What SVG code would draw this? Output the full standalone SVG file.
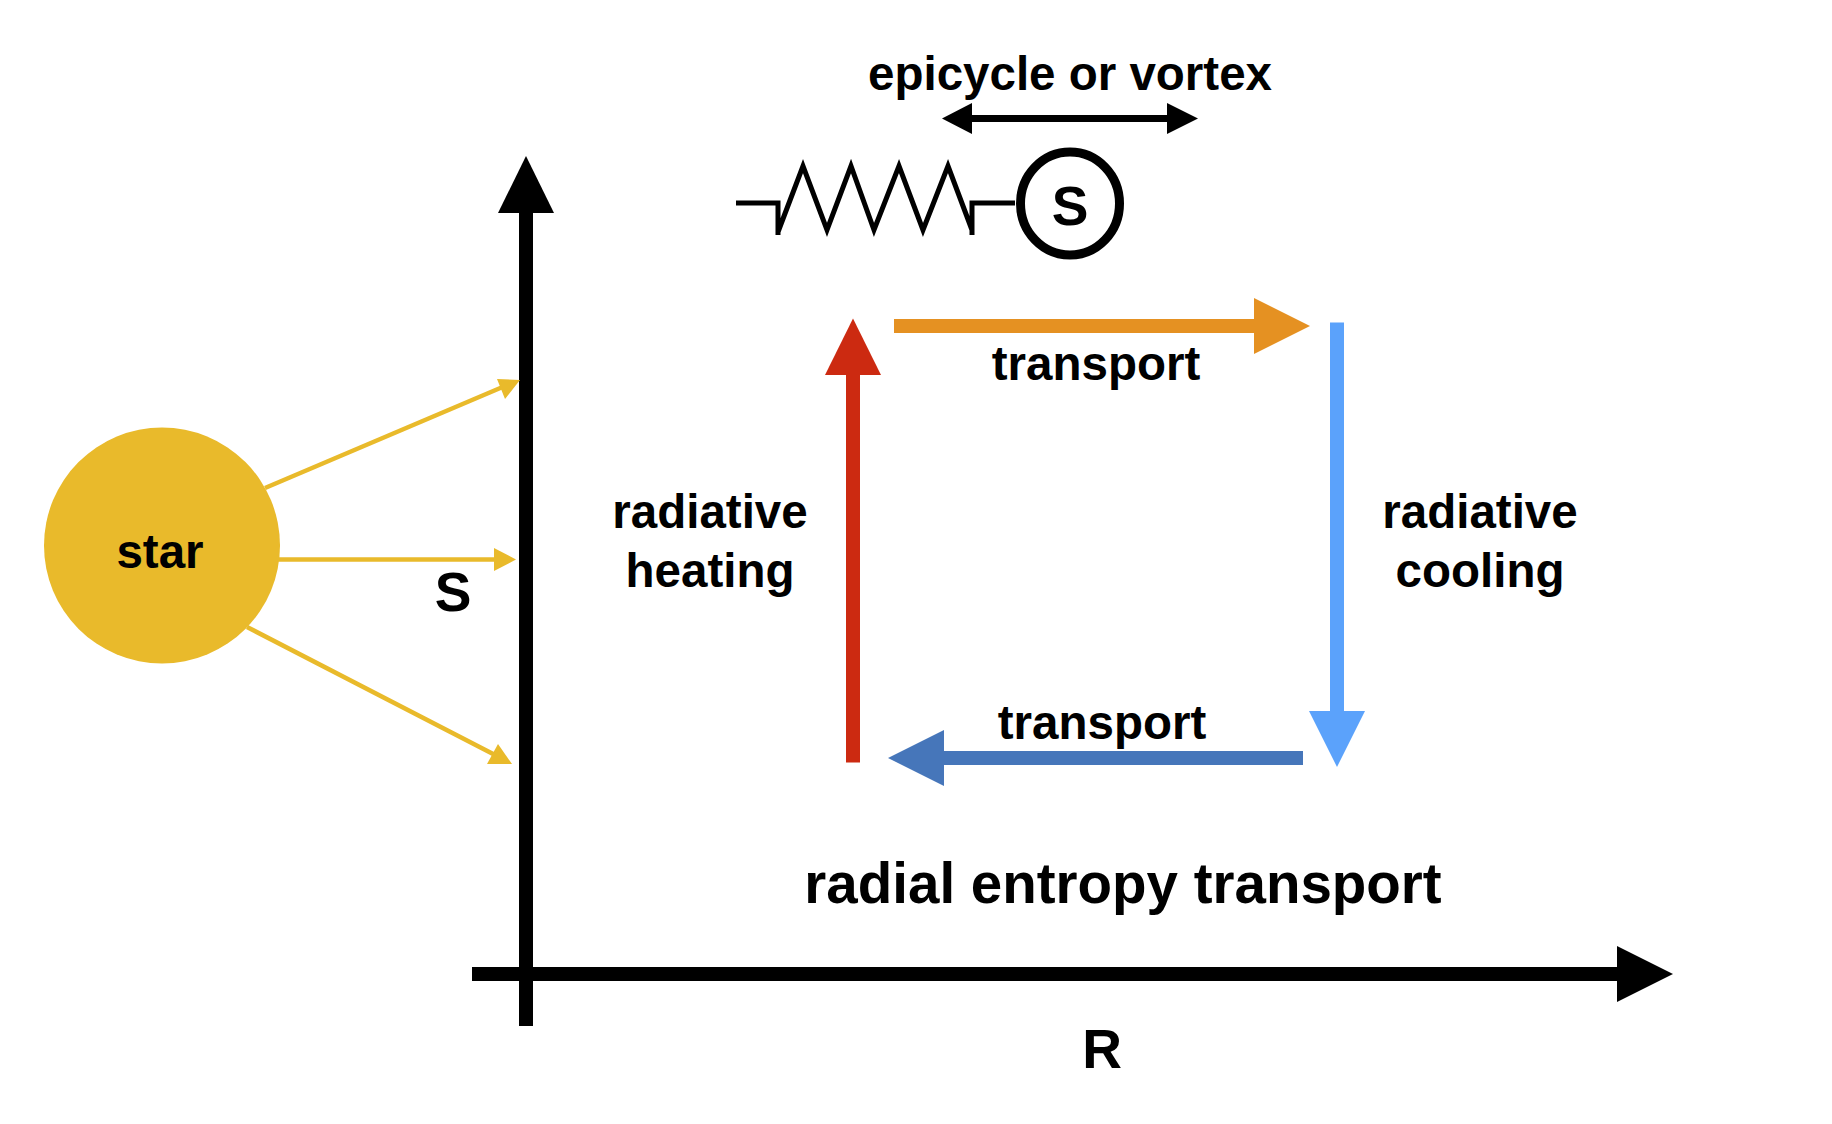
<svg xmlns="http://www.w3.org/2000/svg" width="1832" height="1124" viewBox="0 0 1832 1124">
  <style>
    text { font-family: "Liberation Sans", Arial, sans-serif; font-weight: 700; fill: #000; text-anchor: middle; }
    .label { font-size: 47.5px; }
    .letter { font-size: 55px; }
    .title { font-size: 56.5px; }
    .ray { stroke: #E9BA2B; stroke-width: 4.5; fill: none; }
    .rayhead { fill: #E9BA2B; }
  </style>
  <rect width="1832" height="1124" fill="#fff"/>

  <g id="connectors">
    <!-- S axis -->
    <path d="M526 1026V205" stroke="#000" stroke-width="14" fill="none"/>
    <path d="M526 156L554 213H498Z" fill="#000"/>
    <!-- R axis -->
    <path d="M472 974H1625" stroke="#000" stroke-width="14" fill="none"/>
    <path d="M1673 974L1617 1002V946Z" fill="#000"/>

    <!-- stellar rays -->
    <path class="ray" d="M265 488L505 386"/>
    <path class="rayhead" d="M520 380L497 379L505 399Z"/>
    <path class="ray" d="M278 559.500H500"/>
    <path class="rayhead" d="M516 559.500L494 548V571Z"/>
    <path class="ray" d="M247 627L497 756"/>
    <path class="rayhead" d="M512 764L487 764L498 744Z"/>

    <!-- entropy cycle -->
    <path d="M853 762.500V370" stroke="#CC2A11" stroke-width="14" fill="none"/>
    <path d="M853 318.500L881 375H825Z" fill="#CC2A11"/>
    <path d="M894 326H1260" stroke="#E59122" stroke-width="14" fill="none"/>
    <path d="M1310 326L1254 354V298Z" fill="#E59122"/>
    <path d="M1337 322.500V716" stroke="#5BA2FB" stroke-width="14" fill="none"/>
    <path d="M1337 767L1309 711H1365Z" fill="#5BA2FB"/>
    <path d="M1303 758H938" stroke="#4676BA" stroke-width="14" fill="none"/>
    <path d="M888 758L944 730V786Z" fill="#4676BA"/>

    <!-- oscillation range -->
    <path d="M965 118.500H1175" stroke="#000" stroke-width="7" fill="none"/>
    <path d="M942 118.500L972 103V134Z" fill="#000"/>
    <path d="M1198 118.500L1167 103V134Z" fill="#000"/>
  </g>

  <g id="spring">
    <path d="M736 203H778V235M778 232L803 166L827 230L851 166L874 230L899 166L923 230L948 166L972 230M972 235V203H1015" stroke="#000" stroke-width="5" fill="none" stroke-linejoin="miter"/>
  </g>

  <g id="parcel">
    <ellipse cx="1070" cy="203.500" rx="49.500" ry="51.500" fill="#fff" stroke="#000" stroke-width="9"/>
    <text class="letter" x="1070" y="225">S</text>
  </g>

  <g id="star">
    <circle cx="162" cy="545.500" r="118" fill="#E9BA2B"/>
    <text class="label" x="160" y="568">star</text>
  </g>

  <g id="labels">
    <text class="label" x="1070" y="90">epicycle or vortex</text>
    <text class="label" x="1096" y="380">transport</text>
    <text class="label" x="1102" y="739">transport</text>
    <text class="label" x="710" y="528">radiative</text>
    <text class="label" x="710" y="587">heating</text>
    <text class="label" x="1480" y="528">radiative</text>
    <text class="label" x="1480" y="587">cooling</text>
    <text class="title" x="1123" y="903">radial entropy transport</text>
    <text class="letter" x="453" y="611">S</text>
    <text class="letter" x="1102" y="1068">R</text>
  </g>
</svg>
